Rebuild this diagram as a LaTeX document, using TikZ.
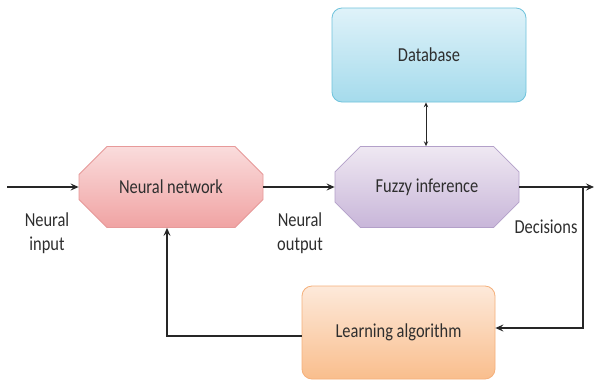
\documentclass[tikz,border=0pt]{standalone}
\usepackage{fontspec}
\setmainfont{Carlito}[FakeStretch=0.83]
\usetikzlibrary{shapes.misc,arrows.meta}
\definecolor{txt}{HTML}{2E2E2E}
\definecolor{nnTop}{HTML}{FADCDC}
\definecolor{nnBot}{HTML}{F0A3A3}
\definecolor{nnLine}{HTML}{E79A9A}
\definecolor{fzTop}{HTML}{EFE8F2}
\definecolor{fzBot}{HTML}{C8B6D9}
\definecolor{fzLine}{HTML}{B3A0C9}
\definecolor{dbTop}{HTML}{DFF2F9}
\definecolor{dbBot}{HTML}{A5DBEC}
\definecolor{dbLine}{HTML}{6FC3DC}
\definecolor{laTop}{HTML}{FDE9DA}
\definecolor{laBot}{HTML}{F9BE8D}
\definecolor{laLine}{HTML}{F5B07B}
\begin{document}
\begin{tikzpicture}[x=1pt,y=-1pt,
  every node/.style={font=\fontsize{19.8}{24}\selectfont, text=txt},
  octbox/.style={chamfered rectangle, chamfered rectangle xsep=#1, chamfered rectangle ysep=#1,
    minimum width=184pt, minimum height=81pt, inner sep=0pt, line width=0.8pt},
  roundbox/.style={rectangle, rounded corners=10pt, minimum width=194pt, minimum height=94pt,
    inner sep=0pt, line width=0.8pt},
  flow/.style={line width=1.7pt, draw=black!85, -{Stealth[length=8pt,width=7pt,inset=3pt]}},
  thin2/.style={line width=0.8pt, draw=black!85, {Stealth[length=5pt,width=4.5pt,inset=2pt]}-{Stealth[length=5pt,width=4.5pt,inset=2pt]}},
  lbl/.style={align=center, inner sep=0pt}
]
\useasboundingbox (0,0) rectangle (595,381);
\fill[white] (0,0) rectangle (595,381);

\node[octbox=21pt, draw=nnLine, top color=nnTop, bottom color=nnBot] (nn) at (171,187) {Neural network};
\node[octbox=17pt, draw=fzLine, top color=fzTop, bottom color=fzBot] (fz) at (427,187) {Fuzzy inference};
\node[roundbox, draw=dbLine, top color=dbTop, bottom color=dbBot] (db) at (429,55) {Database};
\node[roundbox, minimum width=193pt, minimum height=93pt, draw=laLine, top color=laTop, bottom color=laBot] (la) at (398.5,332.5) {Learning algorithm};

\node[lbl] (lin) at (47,233) {Neural\\input};
\node[lbl] (lout) at (300,233) {Neural\\output};
\node[lbl] (ldec) at (546,227) {Decisions};

\coordinate (in) at (7,187);
\coordinate (out) at (594,187);
\coordinate (j) at (583,187);
\coordinate (k) at (583,328);
\coordinate (fb) at (167,336);

\draw[flow] (in) -- (nn.west);
\draw[flow] (nn.east) -- (fz.west);
\draw[flow] (fz.east) -- (out);
\draw[flow] (j) -- (k) -- (k -| la.east);
\draw[flow] (la.west |- fb) -- (fb) -- (fb |- nn.south);
\draw[thin2] (db.south -| 426,0) -- (fz.north -| 426,0);
\end{tikzpicture}
\end{document}
